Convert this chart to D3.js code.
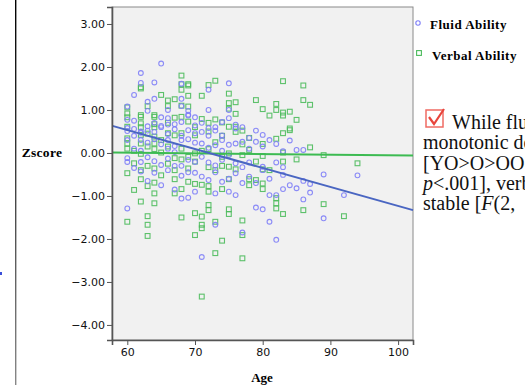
<!DOCTYPE html>
<html>
<head>
<meta charset="utf-8">
<script src="https://cdn.jsdelivr.net/npm/d3@7"></script>
<style>
  html, body { margin: 0; padding: 0; background: #fff; overflow: hidden; }
  svg { display: block; }
</style>
</head>
<body>
<div id="display"></div>
<script>
// [age, zscore]
const fluid = [
  [65, 2.08], [62, 1.86], [62, 1.63], [64, 1.64], [68, 1.61], [75, 1.62], [61, 1.35], [63, 1.19],
  [64, 1.26], [68, 1.26], [68, 1.09], [72, 1.47], [60, 1.08], [72, 1.0], [66, 1.0], [69, 0.89],
  [70, 0.83], [65, 0.83], [66, 0.81], [75, 1.0], [75, 0.81], [67, 0.67], [63, 0.98], [69, 0.98],
  [69, 0.87], [60, 0.77], [60, 0.58], [61, 0.56], [62, 0.5], [63, 0.62], [64, 0.7], [65, 0.6],
  [66, 0.66], [67, 0.55], [68, 0.72], [70, 0.64], [71, 0.7], [73, 0.6], [74, 0.72], [76, 0.66],
  [77, 0.6], [72, 0.58], [61, 0.75],
  [65, 0.63], [63, 0.52], [60, 0.51], [62, 0.47], [64, 0.49], [66, 0.44], [68, 0.40], [69, 0.53],
  [70, 0.46], [71, 0.49], [72, 0.40], [73, 0.52], [74, 0.41], [76, 0.57], [79, 0.52], [73, 0.18],
  [75, 0.19], [76, 0.22], [77, 0.26], [79, 0.26], [80, 0.15], [82, 0.21], [84, 0.29], [85, 0.07],
  [86, 0.07], [83, 0.04], [63, 0.24], [64, 0.32], [65, 0.20], [67, 0.16], [68, 0.30], [69, 0.32],
  [70, 0.24], [71, 0.22], [60, -0.12], [60, -0.21], [62, -0.21], [63, -0.10], [64, -0.19], [65, -0.28],
  [66, -0.13], [68, -0.30], [69, -0.16], [70, -0.21], [71, -0.09], [72, -0.22], [73, -0.29], [74, -0.16],
  [76, -0.24], [77, -0.33], [78, -0.22], [80, -0.32], [82, -0.22], [83, -0.33], [62, -0.43], [64, -0.46],
  [66, -0.40], [68, -0.53], [70, -0.46], [72, -0.63], [74, -0.67], [76, -0.47], [78, -0.55], [80, -0.40],
  [83, -0.51], [86, -0.65], [87, -0.72], [89, -0.50], [94, -0.52], [68, -1.06], [69, -1.04], [73, -0.94],
  [75, -0.90], [76, -0.98], [81, -0.98], [82, -0.98], [83, -0.84], [85, -0.82], [86, -1.08], [87, -0.92],
  [92, -0.98], [60, -1.29], [79, -1.27], [80, -1.31], [81, -1.60], [89, -1.52], [73, -1.67], [77, -1.85],
  [82, -2.02], [71, -2.42],
  [61, 0.1], [62, 0.05], [66, 0.1], [67, 0.02], [72, 0.12], [74, 0.05], [75, -0.05], [78, 0.1],
  [61, -0.35], [67, -0.3], [69, -0.45], [71, -0.55], [73, -0.45], [75, -0.6], [63, -0.65], [65, -0.75],
  [67, -0.85], [70, -0.9], [79, -0.7], [81, -0.6], [84, -0.75], [77, -0.7], [62, 0.3], [60, 0.3],
  [61, 0.4], [66, 0.3], [74, 0.3], [78, 0.35], [80, 0.42], [81, 0.3]
];

const verbal = [
  [68, 1.80], [83, 1.67], [86, 1.57], [73, 1.68], [72, 1.58], [69, 1.57], [62, 1.50], [68, 1.47],
  [65, 1.35], [71, 1.33], [69, 1.33], [67, 1.25], [66, 1.22], [75, 1.38], [76, 1.18], [75, 1.16],
  [79, 1.23], [86, 1.23], [87, 1.12], [82, 1.14], [63, 1.09], [60, 1.06], [66, 1.09], [69, 1.08],
  [80, 1.02], [82, 1.0], [83, 0.94], [84, 0.96], [81, 0.87], [83, 0.87], [76, 0.91], [75, 1.03],
  [85, 0.77], [62, 0.88], [62, 0.84], [64, 0.88], [64, 0.84], [67, 0.82], [68, 0.84], [71, 0.79],
  [73, 0.78], [74, 0.71], [60, 0.83], [60, 0.61], [62, 0.69], [64, 0.67], [69, 0.73], [75, 0.61],
  [76, 0.61], [84, 0.57], [68, 1.6], [69, 1.6], [62, 1.53], [68, 1.1], [60, 0.92], [62, 0.6],
  [64, 0.6], [66, 0.7], [70, 0.6], [72, 0.7],
  [60, 0.34], [60, 0.22], [62, 0.42], [62, 0.22], [64, 0.38], [64, 0.22], [66, 0.46], [67, 0.41],
  [68, 0.46], [70, 0.41], [72, 0.50], [76, 0.49], [77, 0.52], [78, 0.35], [80, 0.21], [82, 0.33],
  [83, 0.46], [84, 0.53], [61, 0.05], [64, 0.09], [65, 0.01], [67, -0.12], [69, -0.09], [70, -0.01],
  [71, 0.05], [72, 0.09], [74, -0.09], [75, -0.01], [78, 0.07], [80, -0.07], [83, 0.01], [85, -0.15],
  [87, 0.13], [89, -0.05], [60, -0.47], [61, -0.24], [62, -0.40], [63, -0.30], [64, -0.36], [65, -0.52],
  [67, -0.40], [69, -0.36], [70, -0.20], [72, -0.33], [73, -0.40], [75, -0.32], [76, -0.38], [79, -0.20],
  [80, -0.38], [81, -0.40], [83, -0.20], [62, -0.61], [63, -0.77], [64, -0.69], [67, -0.61], [69, -0.67],
  [70, -0.72], [71, -0.74], [72, -0.77], [75, -0.61], [78, -0.61], [79, -0.63], [80, -0.71], [61, -0.86],
  [64, -0.94], [67, -0.94], [68, -0.84], [72, -0.90], [74, -0.84], [78, -0.75], [80, -0.84], [82, -1.05],
  [94, -0.24], [89, -1.19], [62, -1.13], [64, -1.17], [68, -1.50], [70, -1.40], [72, -1.21], [72, -1.33],
  [75, -1.31], [75, -1.42], [82, -1.17], [82, -1.29], [83, -1.42], [86, -1.33], [92, -1.47], [60, -1.60],
  [63, -1.47], [63, -1.67], [63, -1.93], [71, -1.48], [71, -1.67], [71, -1.75], [73, -1.60], [77, -1.57],
  [77, -1.91], [70, -1.91], [74, -2.04], [73, -2.33], [77, -2.45], [71, -3.34],
  [66, 0.15], [68, 0.1], [73, 0.25], [74, 0.4], [77, 0.2], [60, 0.1], [63, 0.45], [65, 0.3],
  [66, -0.25], [68, -0.15], [74, -0.3], [77, -0.05], [62, -0.02], [63, 0.15]
];

// fit lines, end points
const fluidFit = [[57.8, 0.63], [102.2, -1.33]];
const verbalFit = [[57.8, 0.01], [102.2, -0.06]];

const xTicks = [60, 70, 80, 90, 100];
const yTicks = [3, 2, 1, 0, -1, -2, -3, -4];
const seriesNames = ['Fluid Ability', 'Verbal Ability'];
const noteLines = ['While fluid', 'monotonic decline', '[YO>O>OO', 'p<.001], verbal', 'stable [F(2,'];

const W = 525, H = 385;
const plot = {left: 112, top: 7, right: 413, bottom: 340};

const svg = d3.select('#display').append('svg')
    .attr('width', W).attr('height', H);

const x = d3.scaleLinear().domain([57.74, 102.2]).range([plot.left, plot.right]);
const y = d3.scaleLinear().domain([-4.35, 3.395]).range([plot.bottom, plot.top]);

// slide edge on the left
const grad = svg.append('defs').append('linearGradient')
    .attr('id', 'edge').attr('x1', 0).attr('x2', 0).attr('y1', 0).attr('y2', 1);
grad.append('stop').attr('offset', '0%').attr('stop-color', '#000');
grad.append('stop').attr('offset', '100%').attr('stop-color', '#888');
svg.append('rect').attr('x', 15).attr('y', 0).attr('width', 1.4).attr('height', H)
    .attr('fill', 'url(#edge)');
svg.append('rect').attr('x', 0).attr('y', 272).attr('width', 2).attr('height', 3)
    .attr('fill', '#3b4fd9');

// plot background
svg.append('rect')
    .attr('x', plot.left).attr('y', plot.top)
    .attr('width', plot.right - plot.left).attr('height', plot.bottom - plot.top)
    .attr('fill', '#f1f1f1').attr('stroke', '#8a8a8a').attr('stroke-width', 1);

const g = svg.append('g');

g.append('g').selectAll('rect')
    .data(verbal).enter()
    .append('rect')
    .attr('x', (d) => x(d[0]) - 2.4)
    .attr('y', (d) => y(d[1]) - 2.4)
    .attr('width', 4.8).attr('height', 4.8)
    .attr('fill', 'none').attr('stroke', '#4cbb5c').attr('stroke-width', 1.1)
    .attr('stroke-opacity', 0.9);

g.append('g').selectAll('circle')
    .data(fluid).enter()
    .append('circle')
    .attr('cx', (d) => x(d[0]))
    .attr('cy', (d) => y(d[1]))
    .attr('r', 2.4)
    .attr('fill', 'none').attr('stroke', '#7f7ff7').attr('stroke-width', 1.1)
    .attr('stroke-opacity', 0.9);

const line = d3.line().x((d) => x(d[0])).y((d) => y(d[1]));
g.append('path').attr('d', line(verbalFit))
    .attr('stroke', '#3dbb52').attr('stroke-width', 2).attr('fill', 'none');
g.append('path').attr('d', line(fluidFit))
    .attr('stroke', '#4a66c2').attr('stroke-width', 2).attr('fill', 'none');

// axes
const yAxis = svg.append('g')
    .attr('transform', 'translate(' + plot.left + ',0)')
    .call(d3.axisLeft(y).tickValues(yTicks).tickSize(5).tickPadding(2)
        .tickFormat((d) => d3.format('.2f')(d)));
const xAxis = svg.append('g')
    .attr('transform', 'translate(0,' + plot.bottom + ')')
    .call(d3.axisBottom(x).tickValues(xTicks).tickSize(5).tickPadding(3));
[xAxis, yAxis].forEach((a) => {
  a.select('.domain').attr('stroke', '#555').attr('stroke-width', 1.6);
  a.selectAll('.tick line').attr('stroke', '#555');
  a.selectAll('.tick text').attr('fill', '#111')
      .style('font-family', 'DejaVu Sans, Verdana, sans-serif').style('font-size', '11px');
});

svg.append('text').attr('x', 42).attr('y', 157).attr('text-anchor', 'middle')
    .style('font-family', 'Liberation Serif, Times New Roman, serif')
    .style('font-weight', 'bold').style('font-size', '13.5px').style('letter-spacing', '0.3px')
    .text('Zscore');
svg.append('text').attr('x', 262).attr('y', 382).attr('text-anchor', 'middle')
    .style('font-family', 'Liberation Serif, Times New Roman, serif')
    .style('font-weight', 'bold').style('font-size', '13px')
    .text('Age');

// legend
const legend = svg.append('g');
legend.append('circle').attr('cx', 418).attr('cy', 23).attr('r', 2.2)
    .attr('fill', 'none').attr('stroke', '#7f7ff7').attr('stroke-width', 1.1);
legend.append('rect').attr('x', 416.6).attr('y', 50.6).attr('width', 4.8).attr('height', 4.8)
    .attr('fill', 'none').attr('stroke', '#4cbb5c').attr('stroke-width', 1.1);
legend.selectAll('text').data(seriesNames).enter()
    .append('text')
    .attr('x', (d, i) => i == 0 ? 430 : 432)
    .attr('y', (d, i) => i == 0 ? 29 : 60)
    .style('font-family', 'Liberation Serif, Times New Roman, serif')
    .style('font-weight', 'bold').style('font-size', '13px').style('letter-spacing', '0.5px')
    .text((d) => d);

// note text on the right, cut by the window edge as in the slide
const note = svg.append('g');
note.append('rect').attr('x', 426).attr('y', 110).attr('width', 17).attr('height', 17)
    .attr('fill', '#fff').attr('stroke', '#ef6b63').attr('stroke-width', 1.5);
note.append('path').attr('d', 'M429,117 L434,124 L444,109')
    .attr('fill', 'none').attr('stroke', '#e8453c').attr('stroke-width', 2.2);

const noteText = note.append('text')
    .style('font-family', 'Liberation Serif, Times New Roman, serif')
    .style('font-size', '20px').attr('fill', '#111');
noteLines.forEach((s, i) => {
  const t = noteText.append('tspan').attr('x', i == 0 ? 452 : 423).attr('y', 129 + i * 20.3);
  if (i == 3) {
    t.append('tspan').style('font-style', 'italic').text('p');
    t.append('tspan').text(s.slice(1));
  } else if (i == 4) {
    t.append('tspan').text('stable [');
    t.append('tspan').style('font-style', 'italic').text('F');
    t.append('tspan').text('(2,');
  } else {
    t.text(s);
  }
});
</script>
</body>
</html>
